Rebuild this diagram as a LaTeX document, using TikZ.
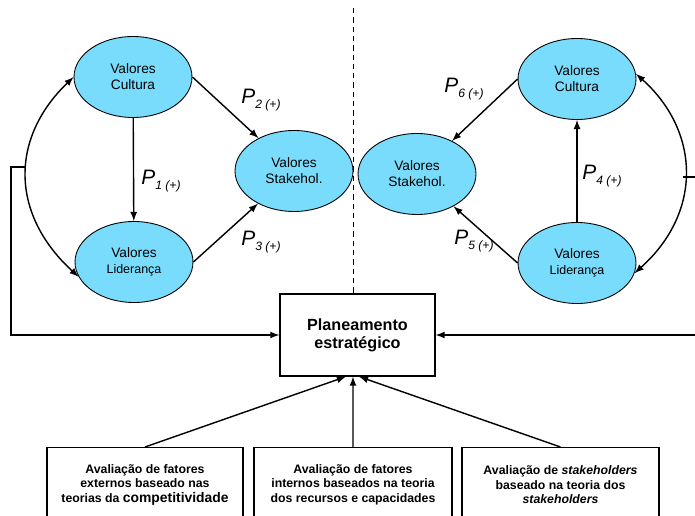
\documentclass[tikz,border=0pt]{standalone}
\usepackage{fontspec}
\setmainfont{Liberation Sans}
\usepackage{tikz}
\usetikzlibrary{shapes,arrows,positioning}
\definecolor{valblue}{RGB}{122,220,253}
\tikzset{valores/.style={ellipse, draw, fill=valblue, line width=0.5pt, inner sep=0pt,
        minimum width=2.36cm, minimum height=1.62cm, align=center,
        font=\fontsize{7.8}{9}\selectfont},
    seta/.style={-latex, line width=0.8pt},
    dupla/.style={latex-latex, line width=0.8pt},
    caixa/.style={draw, line width=0.7pt, align=center, inner sep=0pt},
    plab/.style={inner sep=0pt, anchor=base west}}
\newcommand{\pval}[1]{\textit{\fontsize{11.9}{13}\selectfont P\raisebox{-2.8pt}{\fontsize{6.9}{7}\selectfont #1 (+)}}}
\newcommand{\lid}{{\fontsize{7.1}{9}\selectfont Lideran\c{c}a}}

\begin{document}
\begin{tikzpicture}[x=0.02cm, y=-0.02cm]
                \useasboundingbox (0,0) rectangle (695,516);

                % esquerda
                \node [valores] (cultL) at (133,77) {Valores\\Cultura};
                \node [valores] (lidL) at (134,262) {Valores\\\lid};
                \node [valores] (stakL) at (294,171) {Valores\\Stakehol.};
                \path[seta] (cultL) edge (lidL)
                    (cultL.east) edge (stakL)
                    (lidL.east) edge (stakL);
                \draw[dupla] (cultL.west) .. controls (10,138) and (10,214) .. (lidL.195);
                \node [plab] (p1) at (141,185) {\pval{1}};
                \node [plab] (p2) at (241,104) {\pval{2}};
                \node [plab] (p3) at (241,246) {\pval{3}};

                % direita
                \node [valores] (cultR) at (577,79) {Valores\\Cultura};
                \node [valores] (lidR) at (577,263) {Valores\\\lid};
                \node [valores] (stakR) at (417,174) {Valores\\Stakehol.};
                \path[seta] (lidR) edge (cultR)
                    (cultR.west) edge (stakR)
                    (lidR.west) edge (stakR);
                \draw[dupla] (cultR.5) .. controls (700,131) and (703,212) .. (lidR.-10);
                \node [plab] (p4) at (582,180) {\pval{4}};
                \node [plab] (p5) at (454,245) {\pval{5}};
                \node [plab] (p6) at (444,93) {\pval{6}};

                % planeamento
                \node [caixa, minimum width=3.1cm, minimum height=1.64cm,
                    font=\bfseries\fontsize{9.2}{10.2}\selectfont] (plan) at (357.5,335)
                    {Planeamento\\estrat\'egico};
                \coordinate (dtop) at (353,8);
                \draw[dashed, line width=0.55pt, dash pattern=on 3pt off 2.3pt] (dtop) -- (dtop |- plan.north);
                \coordinate (lk) at (25,167);
                \coordinate (rk) at (683,177);
                \draw[seta] (lk) -- (11,167) |- (plan.west);
                \draw[seta] (rk) -- (702,177) |- (plan.east);

                % avaliacoes
                \node [caixa, anchor=north, minimum width=3.92cm, minimum height=1.48cm,
                    font=\bfseries\fontsize{7}{8.3}\selectfont] (ext) at (145,447)
                    {Avalia\c{c}\~ao de fatores\\externos baseado nas\\teorias da {\fontsize{7.9}{8.3}\selectfont competitividade}};
                \node [caixa, anchor=north, minimum width=3.96cm, minimum height=1.48cm,
                    font=\bfseries\fontsize{7}{8.3}\selectfont] (int) at (353,447)
                    {Avalia\c{c}\~ao de fatores\\internos baseados na teoria\\dos recursos e capacidades};
                \node [caixa, anchor=north, minimum width=3.94cm, minimum height=1.48cm,
                    font=\bfseries\fontsize{7}{8.3}\selectfont] (stk) at (560.5,447)
                    {Avalia\c{c}\~ao de \textit{stakeholders}\\baseado na teoria dos\\\textit{stakeholders}};
                \draw[seta] (ext.north) -- ([xshift=-0.23cm]plan.south);
                \draw[seta] (int.north) -- ([xshift=-0.09cm]plan.south);
                \draw[seta] (stk.north) -- ([xshift=0.03cm]plan.south);

\end{tikzpicture}
\end{document}
